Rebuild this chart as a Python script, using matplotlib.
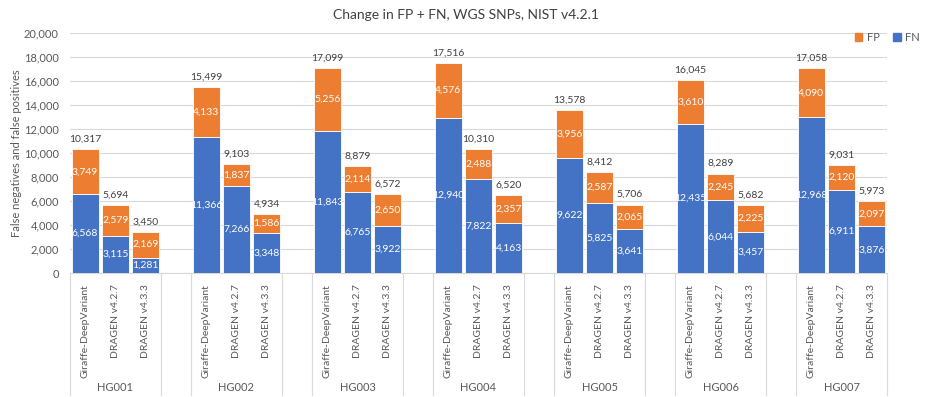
import matplotlib
matplotlib.use("Agg")
import matplotlib.pyplot as plt
import matplotlib.transforms as mtransforms
import numpy as np

plt.rcParams["font.family"] = ["Lato", "DejaVu Sans"]

groups = ["HG001", "HG002", "HG003", "HG004", "HG005", "HG006", "HG007"]
callers = ["Giraffe-DeepVariant", "DRAGEN v4.2.7", "DRAGEN v4.3.3"]

# rows = groups, cols = callers
fn = [
    [6568, 3115, 1281],
    [11366, 7266, 3348],
    [11843, 6765, 3922],
    [12940, 7822, 4163],
    [9622, 5825, 3641],
    [12435, 6044, 3457],
    [12968, 6911, 3876],
]
fp = [
    [3749, 2579, 2169],
    [4133, 1837, 1586],
    [5256, 2114, 2650],
    [4576, 2488, 2357],
    [3956, 2587, 2065],
    [3610, 2245, 2225],
    [4090, 2120, 2097],
]

blue = "#4472C4"
orange = "#ED7D31"
txt = "#595959"

fig = plt.figure(figsize=(9.32, 3.97), dpi=100)
ax = fig.add_axes([0.0751, 0.3123, 0.8766, 0.6046])

fn = np.array(fn)
fp = np.array(fp)
ng, nc = fn.shape
x = np.array([[g * (nc + 1) + j for j in range(nc)] for g in range(ng)]).ravel()
fnv = fn.ravel()
fpv = fp.ravel()

ax.bar(x, fnv, width=0.9, color=blue, edgecolor="white", linewidth=0.6, zorder=3)
ax.bar(x, fpv, bottom=fnv, width=0.9, color=orange, edgecolor="white", linewidth=0.6, zorder=3)

for xi, a, b in zip(x, fnv, fpv):
    ax.text(xi, a / 2, f"{a:,}", ha="center", va="center", color="white", fontsize=7.5, zorder=4)
    ax.text(xi, a + b / 2, f"{b:,}", ha="center", va="center", color="white", fontsize=7.5, zorder=4)
    ax.text(xi, a + b + 450, f"{a + b:,}", ha="center", va="bottom", color="#404040", fontsize=7.5)

ax.set_xlim(-0.5, ng * (nc + 1) - 1.5)
ax.set_ylim(0, 20000)
ax.set_yticks(range(0, 20001, 2000))
ax.set_yticklabels([f"{v:,}" for v in range(0, 20001, 2000)], fontsize=8, color=txt)
ax.tick_params(axis="y", length=0, pad=8)
ax.set_xticks([])
ax.grid(axis="y", color="#D9D9D9", linewidth=0.8, zorder=0)
for s in ["top", "right", "left"]:
    ax.spines[s].set_visible(False)
ax.spines["bottom"].set_color("#D9D9D9")
ax.set_ylabel("False negatives and false positives", fontsize=8, color=txt, labelpad=1)

trans = mtransforms.blended_transform_factory(ax.transData, ax.transAxes)
for xi, lab in zip(x, callers * ng):
    ax.text(xi, -0.045, lab, rotation=90, ha="center", va="top", fontsize=7.5,
            color=txt, transform=trans)

for g in range(ng):
    left = g * (nc + 1) - 0.5
    right = left + nc
    for xb in (left, right):
        ax.plot([xb, xb], [0, -0.51], transform=trans, color="#D9D9D9",
                linewidth=0.8, clip_on=False)
    ax.text(g * (nc + 1) + 1, -0.475, groups[g], ha="center", va="center",
            fontsize=8, color=txt, transform=trans)

fig.text(0.5, 0.962, "Change in FP + FN, WGS SNPs, NIST v4.2.1", ha="center",
         va="center", fontsize=10, color="#404040")

h_fp = plt.Rectangle((0, 0), 1, 1, color=orange)
h_fn = plt.Rectangle((0, 0), 1, 1, color=blue)
fig.legend([h_fp, h_fn], ["FP", "FN"], loc="center", bbox_to_anchor=(0.952, 0.905),
           ncol=2, frameon=False, fontsize=8, handlelength=0.7, handleheight=0.7,
           handletextpad=0.4, columnspacing=1.2, labelcolor=txt)

fig.savefig("out.png", dpi=100)
